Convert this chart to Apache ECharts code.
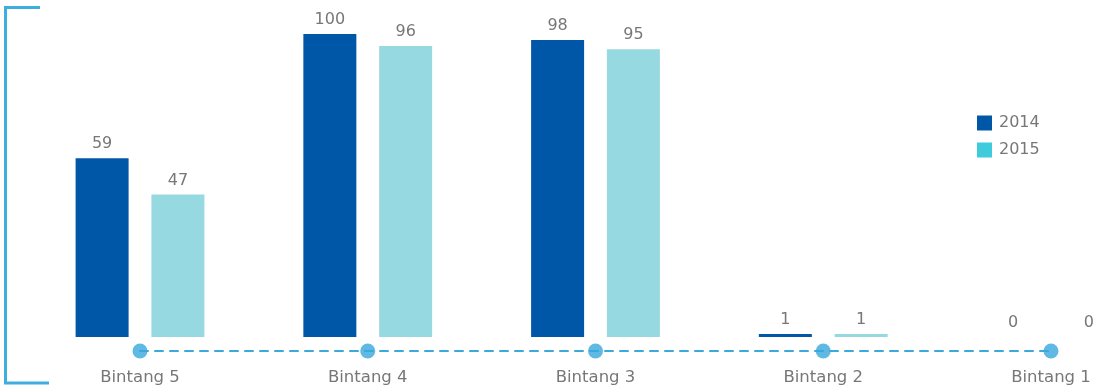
<!DOCTYPE html>
<html>
<head>
<meta charset="utf-8">
<script src="https://cdn.jsdelivr.net/npm/echarts@6/dist/echarts.min.js"></script>
<style>html,body{margin:0;padding:0;background:#fff}#c{width:1096px;height:392px}</style>
</head>
<body>
<div id="c"></div>
<script>
var categories = ['Bintang 5', 'Bintang 4', 'Bintang 3', 'Bintang 2', 'Bintang 1'];
var values2014 = [59, 100, 98, 1, 0];
var values2015 = [47, 96, 95, 1, 0];
var seriesNames = ['2014', '2015'];

var axisMin = -4.62;
var FONT = 'DejaVu Sans';
var chart = echarts.init(document.getElementById('c'));
var labelStyle = { show: true, position: 'top', distance: 6, color: '#777777', fontSize: 16, fontFamily: FONT };
chart.setOption({
  animation: false,
  grid: { left: 140, right: 45, top: 34, bottom: 41 },
  legend: {
    orient: 'vertical', left: 972, top: 110, itemWidth: 15, itemHeight: 15, itemGap: 11,
    textStyle: { color: '#777777', fontSize: 16, fontFamily: FONT, padding: [0, 0, 0, 2] },
    data: [
      { name: seriesNames[0], icon: 'rect', itemStyle: { color: '#0057A8' } },
      { name: seriesNames[1], icon: 'rect', itemStyle: { color: '#3ECBDB' } }
    ]
  },
  xAxis: {
    type: 'category', data: categories, boundaryGap: false,
    axisLine: { show: true, onZero: false, lineStyle: { color: '#3DA8DC', width: 2, type: [8, 7] } },
    axisTick: { show: false },
    axisLabel: { color: '#777777', fontSize: 16.5, fontFamily: FONT, margin: 18, showMaxLabel: true, showMinLabel: true, interval: 0 }
  },
  yAxis: { type: 'value', min: axisMin, max: 100, show: false, splitLine: { show: false } },
  series: [
    { name: seriesNames[0], type: 'bar', data: values2014, barWidth: 53, barGap: '43%', clip: false,
      itemStyle: { color: '#0057A8' }, label: labelStyle },
    { name: seriesNames[1], type: 'bar', data: values2015, barWidth: 53, barGap: '43%', clip: false,
      itemStyle: { color: '#96D9E0' }, label: labelStyle },
    { name: 'dots', type: 'scatter', data: categories.map(function () { return axisMin; }),
      symbolSize: 15, itemStyle: { color: '#38A8DB' }, z: 5, clip: false, silent: true }
  ],
  graphic: [
    { type: 'polyline', shape: { points: [[40, 7.5], [5.5, 7.5], [5.5, 383], [49, 383]] },
      style: { stroke: '#3DAEDD', lineWidth: 3, fill: null } }
  ]
});
</script>
</body>
</html>
